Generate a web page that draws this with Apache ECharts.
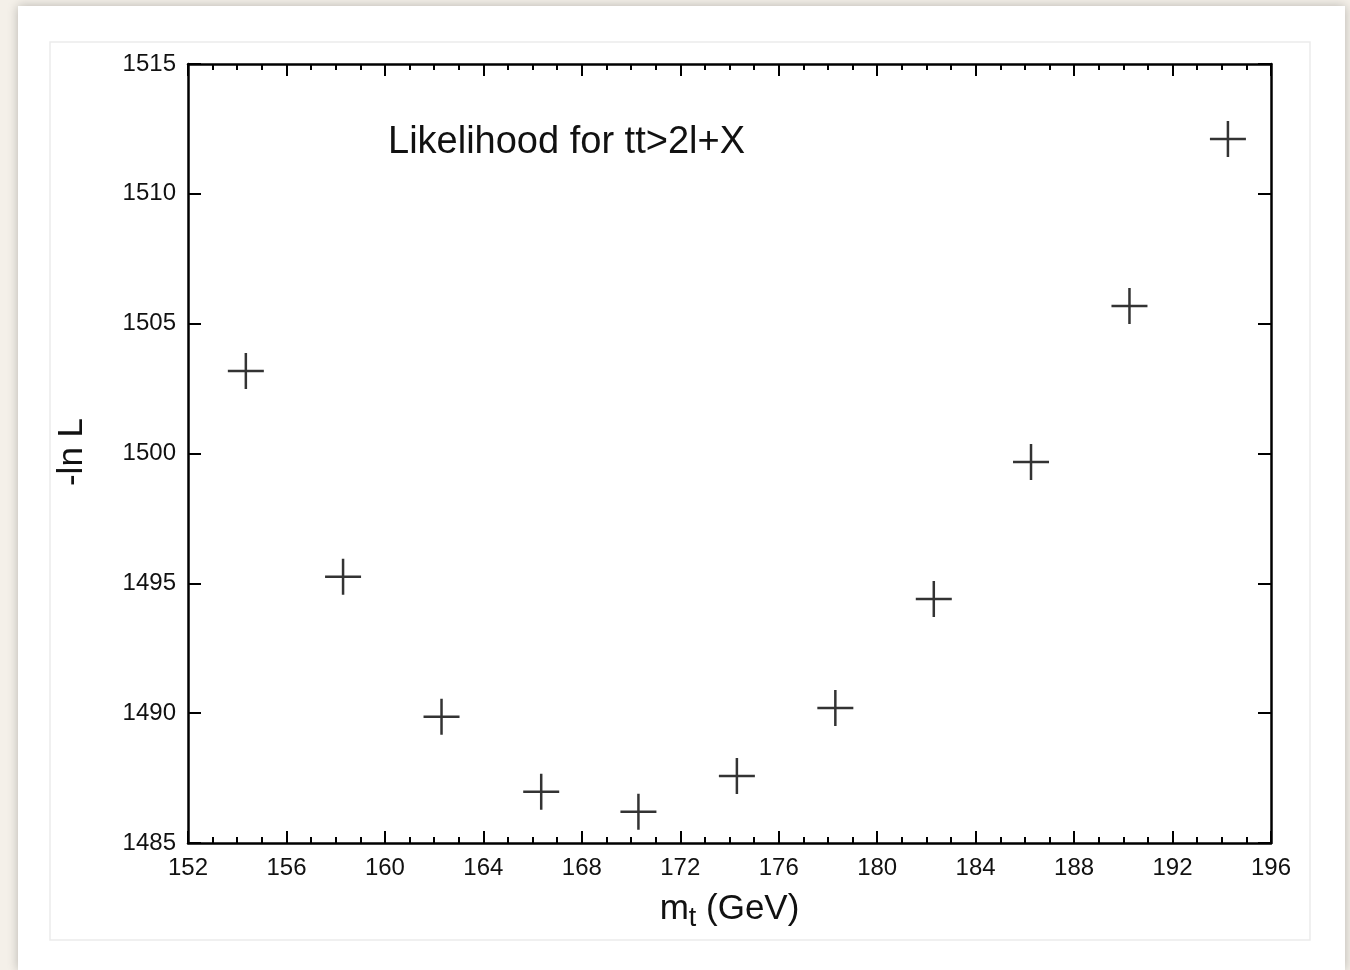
<!DOCTYPE html>
<html>
<head>
<meta charset="utf-8">
<script src="https://cdn.jsdelivr.net/npm/echarts@6/dist/echarts.min.js"></script>
<style>
html,body{margin:0;padding:0;background:#f4f0e9;}
#chart{width:1350px;height:970px;}
</style>
</head>
<body>
<div id="chart"></div>
<script>
// Data
const massValues = [154.35, 158.3, 162.3, 166.35, 170.3, 174.3, 178.3, 182.3, 186.25, 190.25, 194.25];
const negLnL = [1503.18, 1495.25, 1489.86, 1486.97, 1486.2, 1487.58, 1490.2, 1494.4, 1499.67, 1505.68, 1512.11];
const xTicks = [152, 156, 160, 164, 168, 172, 176, 180, 184, 188, 192, 196];
const yTicks = [1485, 1490, 1495, 1500, 1505, 1510, 1515];
const titleText = 'Likelihood for tt>2l+X';

const points = massValues.map((m, i) => [m, negLnL[i]]);
const chart = echarts.init(document.getElementById('chart'));
const font = '"Liberation Sans", Arial, Helvetica, sans-serif';
const frameLine = {show: true, lineStyle: {color: '#000', width: 2.5}};

chart.setOption({
  animation: false,
  backgroundColor: 'transparent',
  graphic: [
    {type: 'rect', z: -10, shape: {x: 18, y: 6, width: 1327, height: 964}, style: {fill: '#ffffff', shadowBlur: 10, shadowColor: 'rgba(0,0,0,0.25)'}},
    {type: 'rect', z: -9, shape: {x: 50, y: 42, width: 1260, height: 898}, style: {fill: '#ffffff', stroke: '#ebebeb', lineWidth: 1.5}},
    {type: 'text', left: 388, top: 124, style: {text: titleText, font: '38px ' + font, fill: '#111'}},
    {type: 'text', x: 72, y: 452, rotation: Math.PI / 2,
      style: {text: '-ln L', font: '35px ' + font, fill: '#111', align: 'center', verticalAlign: 'middle'}}
  ],
  grid: {left: 188, right: 79, top: 64, bottom: 127, show: false},
  xAxis: [
    {
      type: 'value', min: 152, max: 196, interval: 4, position: 'bottom',
      axisLine: frameLine,
      axisTick: {show: true, inside: true, length: 12, lineStyle: {color: '#000', width: 2}},
      minorTick: {show: true, splitNumber: 4, length: 6, lineStyle: {color: '#000', width: 2}},
      axisLabel: {color: '#111', fontSize: 24, fontFamily: font, margin: 13, customValues: xTicks,
        formatter: v => String(v)},
      splitLine: {show: false},
      name: 'm{sub|t} (GeV)',
      nameLocation: 'middle', nameGap: 44,
      nameTextStyle: {color: '#111', fontSize: 35, fontFamily: font,
        rich: {sub: {fontSize: 27, verticalAlign: 'bottom', padding: [18, 0, 0, 0], fontFamily: font, color: '#111'}}}
    },
    {
      type: 'value', min: 152, max: 196, interval: 4, position: 'top',
      axisLine: frameLine,
      axisTick: {show: true, inside: true, length: 12, lineStyle: {color: '#000', width: 2}},
      minorTick: {show: true, splitNumber: 4, length: 6, lineStyle: {color: '#000', width: 2}},
      axisLabel: {show: false},
      splitLine: {show: false}
    }
  ],
  yAxis: [
    {
      type: 'value', min: 1485, max: 1515, interval: 5, position: 'left',
      axisLine: frameLine,
      axisTick: {show: true, inside: true, length: 13, lineStyle: {color: '#000', width: 2}},
      axisLabel: {color: '#111', fontSize: 24, fontFamily: font, margin: 12, customValues: yTicks,
        formatter: v => String(v)},
      splitLine: {show: false}
    },
    {
      type: 'value', min: 1485, max: 1515, interval: 5, position: 'right',
      axisLine: frameLine,
      axisTick: {show: true, inside: true, length: 13, lineStyle: {color: '#000', width: 2}},
      axisLabel: {show: false},
      splitLine: {show: false}
    }
  ],
  series: [{
    type: 'scatter',
    xAxisIndex: 0, yAxisIndex: 0,
    data: points,
    symbol: 'path://M0,10L20,10M10,0L10,20',
    symbolSize: 36,
    itemStyle: {color: 'rgba(0,0,0,0)', borderColor: '#000', borderWidth: 2.5},
    emphasis: {disabled: true}
  }]
});
</script>
</body>
</html>
